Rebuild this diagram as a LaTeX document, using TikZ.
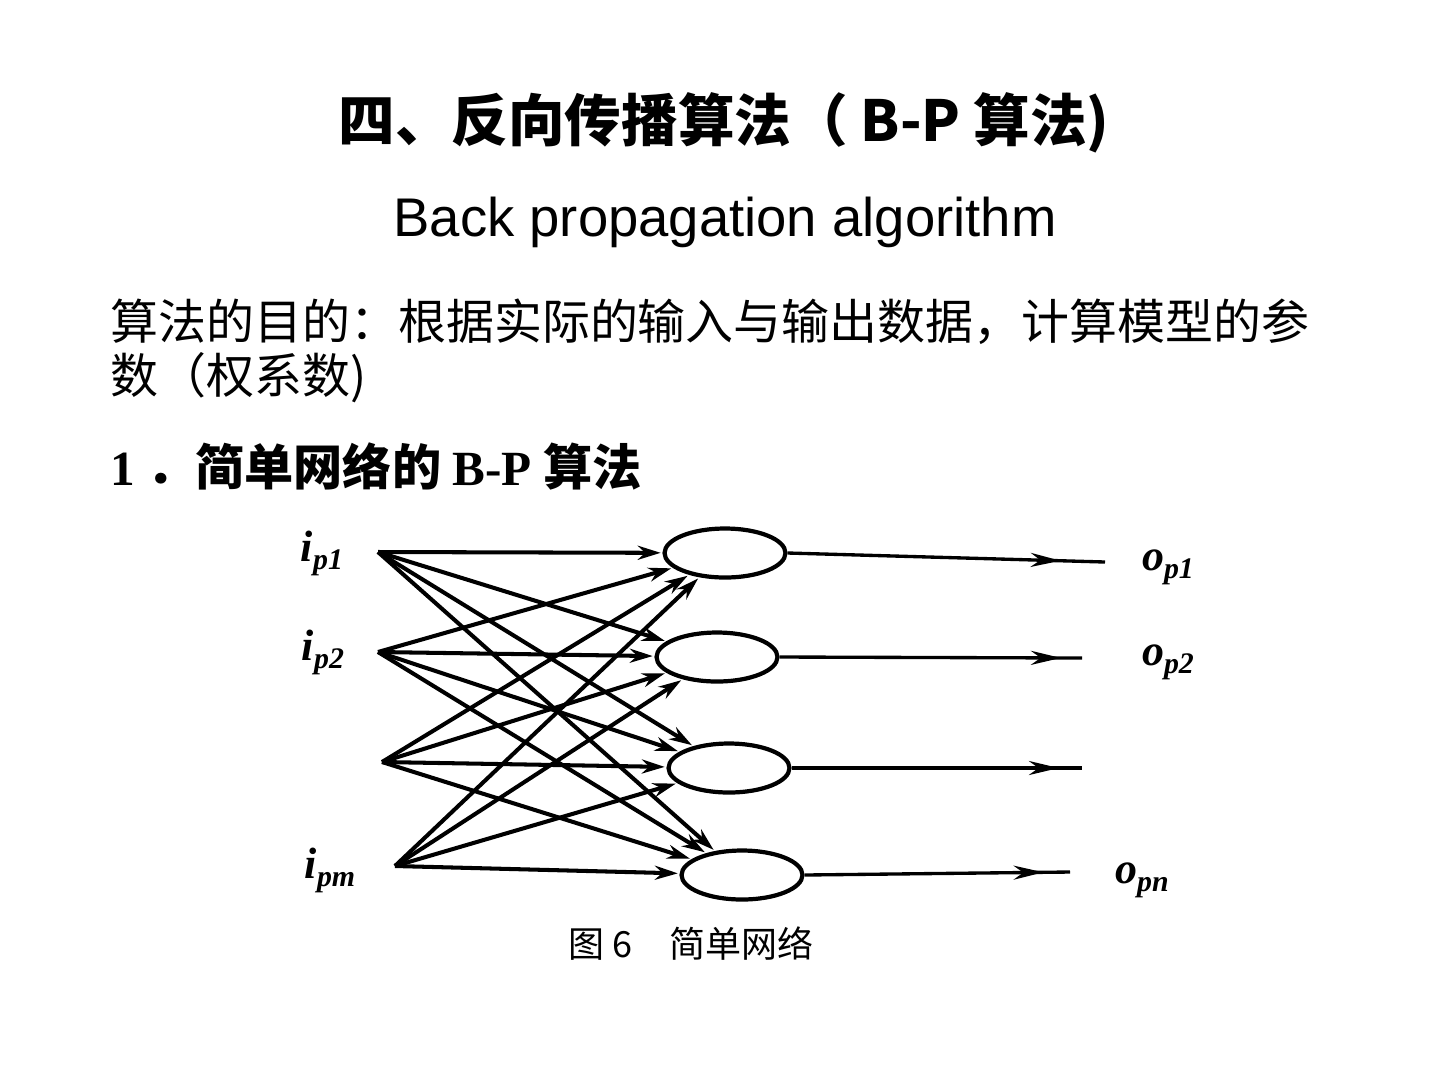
\documentclass[tikz,border=0pt]{standalone}
\usepackage{fontspec}
\newfontfamily\cjk{Noto Sans CJK SC}
\newfontfamily\arialf{Liberation Sans}
\newfontfamily\tnr{Liberation Serif}
\usetikzlibrary{shapes.geometric,arrows.meta,decorations.markings}
\newcommand{\biv}[2]{{\tnr\bfseries\itshape #1\raisebox{-0.4ex}{\fontsize{17}{17}\selectfont #2}}}
\begin{document}
\begin{tikzpicture}[x=0.02cm,y=-0.02cm,
  neuron/.style={draw,ellipse,line width=2.4pt,minimum width=2.42cm,minimum height=0.98cm,inner sep=0pt},
  conn/.style={line width=2.3pt,-{Stealth[length=13pt,width=8pt]},shorten >=1pt},
  outl/.style={line width=1.9pt,postaction={decorate},decoration={markings,mark=at position #1 with {\arrow{Stealth[length=17pt,width=8pt]}}}},
  lbl/.style={inner sep=0pt,font=\fontsize{25}{25}\selectfont}
]
\useasboundingbox (0,0) rectangle (1440,1080);
\fill[white] (0,0) rectangle (1440,1080);

% texts
\node[inner sep=0pt,font=\cjk\bfseries\fontsize{32.2}{32.2}\selectfont] (title) at (724,123) {四、反向传播算法（ B-P 算法)};
\node[inner sep=0pt,font=\arialf\fontsize{31}{31}\selectfont] (sub) at (725,222) {Back propagation algorithm};
\node[inner sep=0pt,anchor=west,font=\cjk\fontsize{27.3}{27.3}\selectfont] (l1) at (110,322) {算法的目的：根据实际的输入与输出数据，计算模型的参};
\node[inner sep=0pt,anchor=west,font=\cjk\fontsize{27.3}{27.3}\selectfont] (l2) at (110,378) {数（权系数)};
\node[inner sep=0pt,anchor=west,font=\cjk\bfseries\fontsize{28}{28}\selectfont] (sec) at (110,466) {{\tnr 1} ．简单网络的 {\tnr B-P} 算法};
\node[inner sep=0pt,font=\cjk\fontsize{20.5}{20.5}\selectfont] (cap) at (691,944) {图 6\quad 简单网络};

% inputs
\coordinate (i1) at (378,552);
\coordinate (i2) at (378,652);
\coordinate (i3) at (382,762);
\coordinate (i4) at (395,866);
\node[lbl] (li1) at (322,553) {\biv{i}{p1}};
\node[lbl] (li2) at (323,652) {\biv{i}{p2}};
\node[lbl] (li4) at (330,870) {\biv{i}{pm}};

% neurons
\node[neuron] (n1) at (725,553) {};
\node[neuron] (n2) at (717,657) {};
\node[neuron] (n3) at (729,768) {};
\node[neuron] (n4) at (742,875) {};

% connections
\foreach \i in {1,2,3,4}{
  \foreach \n in {1,2,3,4}{
    \draw[conn] (i\i) -- (n\n);
  }
}

% outputs
\coordinate (o1) at (1105,562);
\coordinate (o2) at (1082,658);
\coordinate (o3) at (1082,768);
\coordinate (o4) at (1070,872);
\draw[outl=0.86] (n1.east) -- (o1);
\draw[outl=0.93] (n2.east) -- (o2);
\draw[outl=0.92] (n3.east) -- (o3);
\draw[outl=0.9] (n4.east) -- (o4);
\node[lbl] (lo1) at (1168,567) {\biv{o}{p1}};
\node[lbl] (lo2) at (1168,662) {\biv{o}{p2}};
\node[lbl] (lo4) at (1142,880) {\biv{o}{pn}};
\end{tikzpicture}
\end{document}
